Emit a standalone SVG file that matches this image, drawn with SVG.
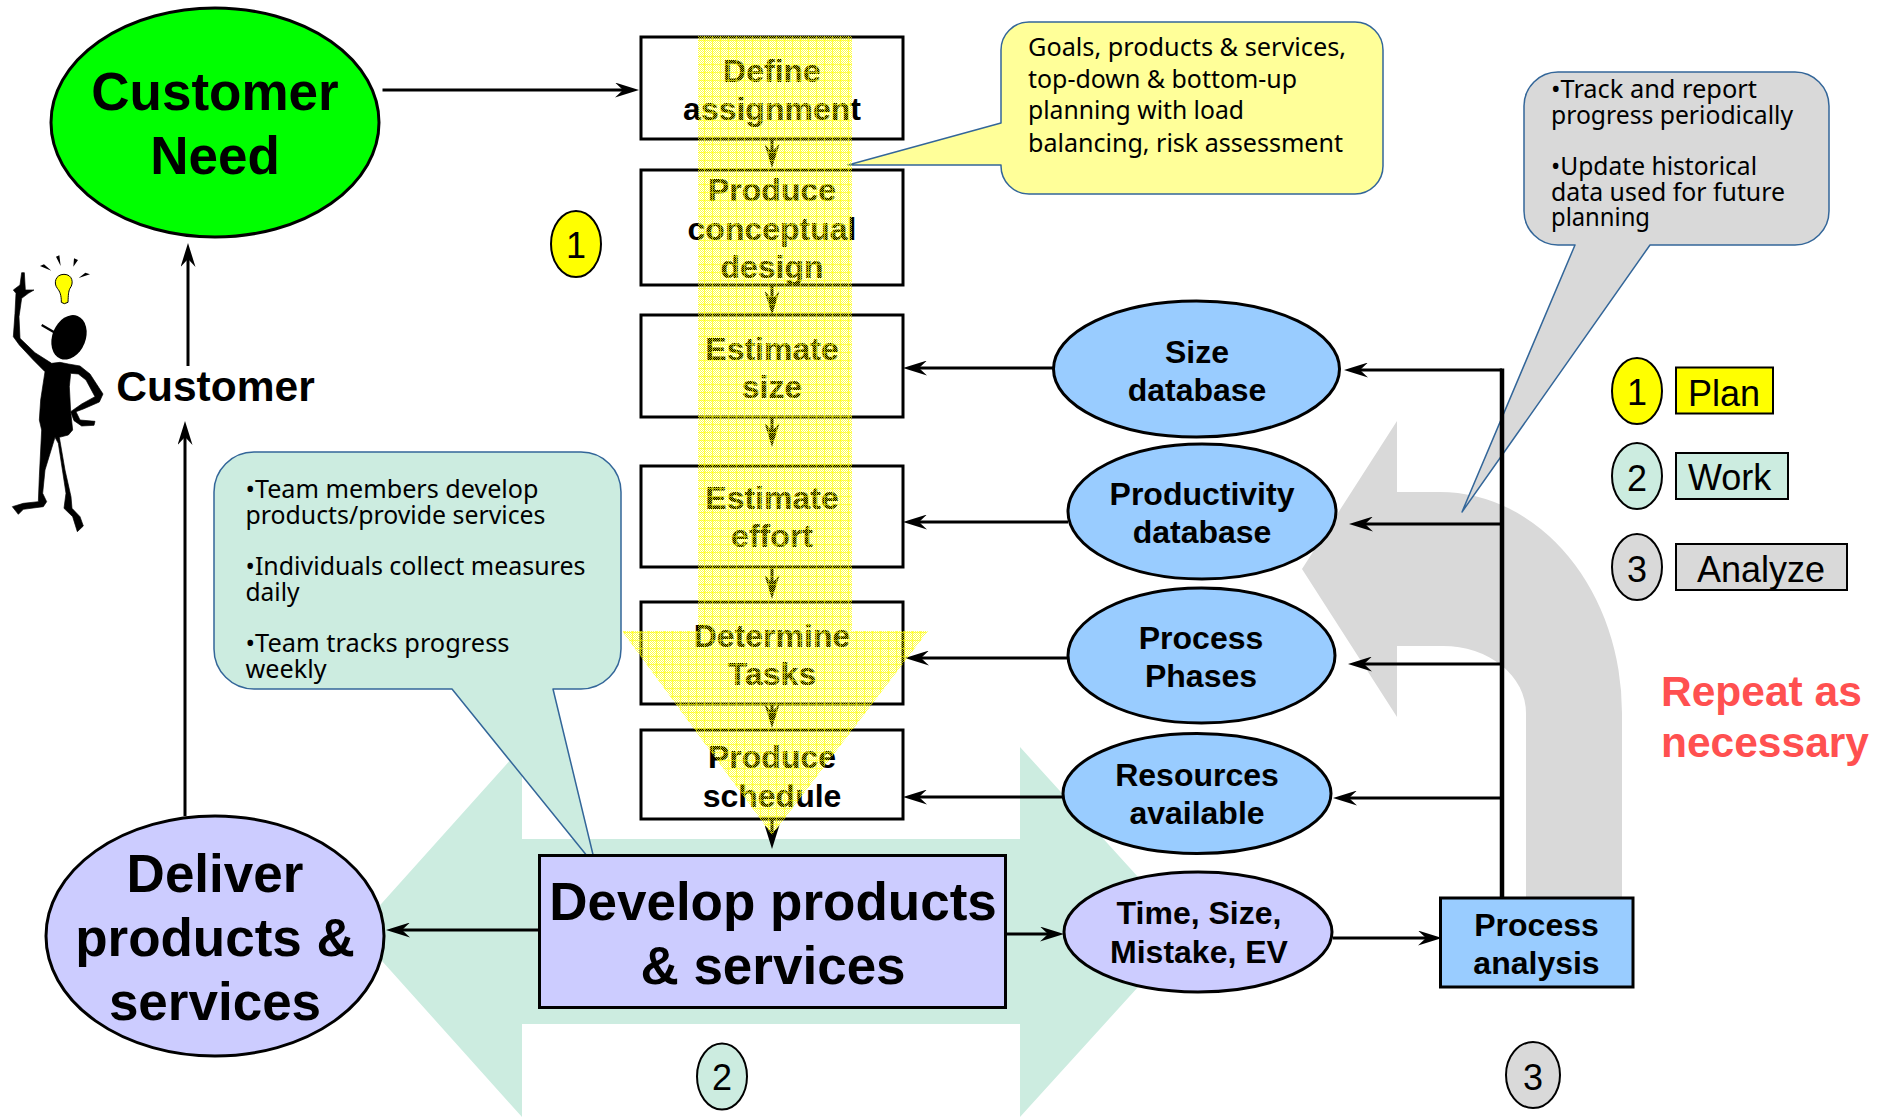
<svg xmlns="http://www.w3.org/2000/svg" width="1886" height="1117" viewBox="0 0 1886 1117">
<style>
text{font-family:"Liberation Sans",Arial,sans-serif;fill:#000}
.b{font-weight:bold;text-anchor:middle}
.f32{font-size:32px}
.f53{font-size:53px}
.num{font-size:36px;text-anchor:middle}
.leg{font-size:36px}
.note{font-family:"Noto Sans",sans-serif;font-size:26px}
.box{fill:#fff;stroke:#000;stroke-width:3}
.el{stroke:#000;stroke-width:3}
.blue{fill:#99ccff}
.lav{fill:#ccccff}
.thin{stroke:#000;stroke-width:2}
.call{stroke:#336699;stroke-width:1.5;stroke-linejoin:round}
.cn{stroke:#000;stroke-width:3;fill:none;marker-end:url(#ah)}
</style>
<defs>
<marker id="ah" markerUnits="userSpaceOnUse" markerWidth="24" markerHeight="15" refX="14" refY="7.5" orient="auto"><path d="M0 0L24 7.5L0 15L8 7.5Z" fill="#000"/></marker>
<pattern id="dither" patternUnits="userSpaceOnUse" width="8" height="8">
<g fill="none" stroke="#ffff00" stroke-opacity=".72" stroke-dasharray="1 1">
<path d="M0 .5H8M0 2.5H8M0 4.5H8M0 6.5H8"/>
<path d="M1 1.500H8M1 3.500H8M1 5.500H8M1 7.500H8"/>
</g>
<path d="M0 .5H8M.5 0V8" fill="none" stroke="#ffff00" stroke-opacity=".55"/>
</pattern>
</defs>
<rect width="1886" height="1117" fill="#fff"/>

<g id="work-arrow"><path d="M356 932L522 747V839H1020V747L1188 932L1020 1117V1024H522V1117Z" fill="#ccece0"/></g>
<g id="analyze-arrow"><path d="M1302 569L1397 421V492H1440A182 221 0 0 1 1622 713V897H1526V713A83 67 0 0 0 1443 646H1397V717Z" fill="#d9d9d9"/></g>

<g id="callout-plan"><path class="call" fill="#ffff99" d="M1029 22H1355A28 28 0 0 1 1383 50V166A28 28 0 0 1 1355 194H1029A28 28 0 0 1 1001 166V165L848 165L1001 123V50A28 28 0 0 1 1029 22Z"/>
<text class="note" x="1028" y="56" textLength="318" lengthAdjust="spacingAndGlyphs">Goals, products &amp; services,</text>
<text class="note" x="1028" y="88" textLength="269" lengthAdjust="spacingAndGlyphs">top-down &amp; bottom-up</text>
<text class="note" x="1028" y="119" textLength="216" lengthAdjust="spacingAndGlyphs">planning with load</text>
<text class="note" x="1028" y="152" textLength="315" lengthAdjust="spacingAndGlyphs">balancing, risk assessment</text></g>

<g id="callout-work"><path class="call" fill="#ccece0" d="M254 452H581A40 40 0 0 1 621 492V649A40 40 0 0 1 581 689H553L596 867L452 689H254A40 40 0 0 1 214 649V492A40 40 0 0 1 254 452Z"/>
<text class="note" x="245.500" y="497.500" textLength="293" lengthAdjust="spacingAndGlyphs">•Team members develop</text>
<text class="note" x="245.500" y="523.500" textLength="300" lengthAdjust="spacingAndGlyphs">products/provide services</text>
<text class="note" x="245.500" y="574.500" textLength="340" lengthAdjust="spacingAndGlyphs">•Individuals collect measures</text>
<text class="note" x="245.500" y="600.500" textLength="54" lengthAdjust="spacingAndGlyphs">daily</text>
<text class="note" x="245.500" y="651.500" textLength="264" lengthAdjust="spacingAndGlyphs">•Team tracks progress</text>
<text class="note" x="245.500" y="677.500" textLength="81" lengthAdjust="spacingAndGlyphs">weekly</text></g>

<g id="callout-analyze"><path class="call" fill="#d9d9d9" d="M1558 72H1795A34 34 0 0 1 1829 106V211A34 34 0 0 1 1795 245H1650L1462 512L1575 245H1558A34 34 0 0 1 1524 211V106A34 34 0 0 1 1558 72Z"/>
<text class="note" x="1551" y="98" textLength="206" lengthAdjust="spacingAndGlyphs">•Track and report</text>
<text class="note" x="1551" y="124" textLength="242" lengthAdjust="spacingAndGlyphs">progress periodically</text>
<text class="note" x="1551" y="175" textLength="206" lengthAdjust="spacingAndGlyphs">•Update historical</text>
<text class="note" x="1551" y="201" textLength="234" lengthAdjust="spacingAndGlyphs">data used for future</text>
<text class="note" x="1551" y="226" textLength="99" lengthAdjust="spacingAndGlyphs">planning</text></g>

<g id="customer-figure" transform="translate(0,230) scale(.33333)">
<path fill="#000" stroke="#000" stroke-width="2" stroke-linejoin="round" d="M65 128L73 128L76 180L102 180L85 190L65 205L57 260L60 325L105 368L155 400L180 397L205 402L240 408L270 432L309 492L298 516L250 537L228 545L240 570L285 574L282 586L245 588L222 572L212 545L245 522L285 500L258 450L235 432L212 430L208 470L212 545L218 600L205 615L178 622L195 720L213 800L216 835L240 860L250 888L232 905L218 860L192 835L198 790L175 640L165 622L135 720L128 790L140 815L130 830L70 838L55 853L37 830L70 820L115 815L118 740L125 600L118 570L122 510L135 425L100 390L58 345L40 320L45 250L48 190L40 180L60 165Z"/>
<ellipse cx="207" cy="322" rx="50" ry="69" transform="rotate(22 207 322)" fill="#000"/>
<path d="M125 285L165 308" stroke="#000" stroke-width="7" fill="none"/>
<path d="M192 133C218 133 222 160 210 175C205 185 205 195 204 217Q192 225 184 217C184 195 180 185 172 175C160 160 166 133 192 133Z" fill="#ffff00" stroke="#000" stroke-width="3"/>
<path d="M120 108L132 103L154 122ZM168 80L178 76L182 108ZM220 110L222 85L234 90ZM236 144L256 128L270 133Z" fill="#000"/>
</g>

<g id="customer-label"><text class="b" x="215.500" y="401" style="font-size:42.500px">Customer</text></g>

<g id="customer-need"><ellipse class="el" cx="215" cy="122.500" rx="164" ry="114.500" fill="#00ff00"/>
<text class="b f53" x="215" y="110">Customer</text><text class="b f53" x="215" y="174">Need</text></g>

<g id="define"><rect class="box" x="641" y="37" width="262" height="102"/><text class="b f32" x="772" y="82">Define</text><text class="b f32" x="772" y="120">assignment</text></g>
<g id="conceptual"><rect class="box" x="641" y="170" width="262" height="115"/><text class="b f32" x="772" y="201">Produce</text><text class="b f32" x="772" y="240">conceptual</text><text class="b f32" x="772" y="278">design</text></g>
<g id="est-size"><rect class="box" x="641" y="315" width="262" height="102"/><text class="b f32" x="772" y="360">Estimate</text><text class="b f32" x="772" y="398">size</text></g>
<g id="est-effort"><rect class="box" x="641" y="466" width="262" height="101"/><text class="b f32" x="772" y="509">Estimate</text><text class="b f32" x="772" y="547">effort</text></g>
<g id="tasks"><rect class="box" x="641" y="602" width="262" height="102"/><text class="b f32" x="772" y="647">Determine</text><text class="b f32" x="772" y="685">Tasks</text></g>
<g id="schedule"><rect class="box" x="641" y="730" width="262" height="89"/><text class="b f32" x="772" y="768">Produce</text><text class="b f32" x="772" y="807">schedule</text></g>

<g id="size-db"><ellipse class="el blue" cx="1196.500" cy="369" rx="143" ry="68"/><text class="b f32" x="1197" y="363">Size</text><text class="b f32" x="1197" y="401">database</text></g>
<g id="prod-db"><ellipse class="el blue" cx="1202" cy="511.500" rx="134" ry="67.500"/><text class="b f32" x="1202" y="505">Productivity</text><text class="b f32" x="1202" y="543">database</text></g>
<g id="phases"><ellipse class="el blue" cx="1201.500" cy="655.500" rx="133.500" ry="67.500"/><text class="b f32" x="1201" y="649">Process</text><text class="b f32" x="1201" y="687">Phases</text></g>
<g id="resources"><ellipse class="el blue" cx="1197" cy="793.500" rx="134" ry="60"/><text class="b f32" x="1197" y="786">Resources</text><text class="b f32" x="1197" y="824">available</text></g>
<g id="measures"><ellipse class="el lav" cx="1198" cy="932" rx="134" ry="60"/><text class="b f32" x="1199" y="924">Time, Size,</text><text class="b f32" x="1199" y="963">Mistake, EV</text></g>
<g id="process-analysis"><rect class="el blue" x="1440.500" y="898" width="192.500" height="89"/><text class="b f32" x="1536.500" y="936">Process</text><text class="b f32" x="1536.500" y="974">analysis</text></g>
<g id="deliver"><ellipse class="el lav" cx="215" cy="936" rx="169" ry="120"/><text class="b f53" x="215" y="892">Deliver</text><text class="b f53" x="215" y="956">products &amp;</text><text class="b f53" x="215" y="1020">services</text></g>
<g id="develop"><rect class="el lav" x="539.500" y="855.500" width="466" height="152"/><text class="b f53" x="773" y="920">Develop products</text><text class="b f53" x="773" y="984">&amp; services</text></g>

<g id="badge-1"><ellipse class="thin" cx="576" cy="244" rx="25" ry="33" fill="#ffff00"/><text class="num" x="576" y="258">1</text></g>
<g id="badge-2"><ellipse class="thin" cx="722" cy="1076.500" rx="25" ry="33" fill="#ccece0"/><text class="num" x="722" y="1090">2</text></g>
<g id="badge-3"><ellipse class="thin" cx="1533" cy="1075" rx="27" ry="33" fill="#d9d9d9"/><text class="num" x="1533" y="1090">3</text></g>

<g id="legend-plan"><ellipse class="thin" cx="1637" cy="391" rx="25" ry="33" fill="#ffff00"/><text class="num" x="1637" y="405">1</text><rect class="thin" x="1676" y="367.500" width="97" height="46" fill="#ffff00"/><text class="leg" x="1688" y="406">Plan</text></g>
<g id="legend-work"><ellipse class="thin" cx="1637" cy="476" rx="25" ry="33" fill="#ccece0"/><text class="num" x="1637" y="491">2</text><rect class="thin" x="1676" y="453" width="112" height="46" fill="#ccece0"/><text class="leg" x="1688" y="490">Work</text></g>
<g id="legend-analyze"><ellipse class="thin" cx="1637" cy="567" rx="25" ry="33" fill="#d9d9d9"/><text class="num" x="1637" y="582">3</text><rect class="thin" x="1676" y="544" width="171" height="46" fill="#d9d9d9"/><text class="leg" x="1697" y="582">Analyze</text></g>
<g id="repeat"><text x="1661" y="706" font-weight="bold" style="font-size:42.500px;fill:#ff5050">Repeat as</text><text x="1661" y="757" font-weight="bold" style="font-size:42.500px;fill:#ff5050">necessary</text></g>

<g id="connectors">
<path class="cn" d="M382.500 90H629"/>
<path class="cn" d="M188 366V253"/>
<path class="cn" d="M185 816V431"/>
<path class="cn" d="M772 139V158"/>
<path class="cn" d="M772 285V305"/>
<path class="cn" d="M772 417V437"/>
<path class="cn" d="M772 567V589"/>
<path class="cn" d="M772 704V718"/>
<path class="cn" d="M772 819V839"/>
<path class="cn" d="M1053 368H913"/>
<path class="cn" d="M1068 522H913"/>
<path class="cn" d="M1067 658H915"/>
<path class="cn" d="M1063 797H913"/>
<path class="cn" d="M1502 370H1354"/>
<path class="cn" d="M1502 524H1359"/>
<path class="cn" d="M1502 664H1358"/>
<path class="cn" d="M1502 798H1343"/>
<path d="M1502 368.500V897" stroke="#000" stroke-width="4.500" fill="none"/>
<path class="cn" d="M539 930H396"/>
<path class="cn" d="M1006 934H1054"/>
<path class="cn" d="M1333 938H1432"/>
</g>

<g id="plan-arrow"><path d="M698 36H852V631H928L772 835L622 631H698Z" fill="url(#dither)"/></g>
</svg>
